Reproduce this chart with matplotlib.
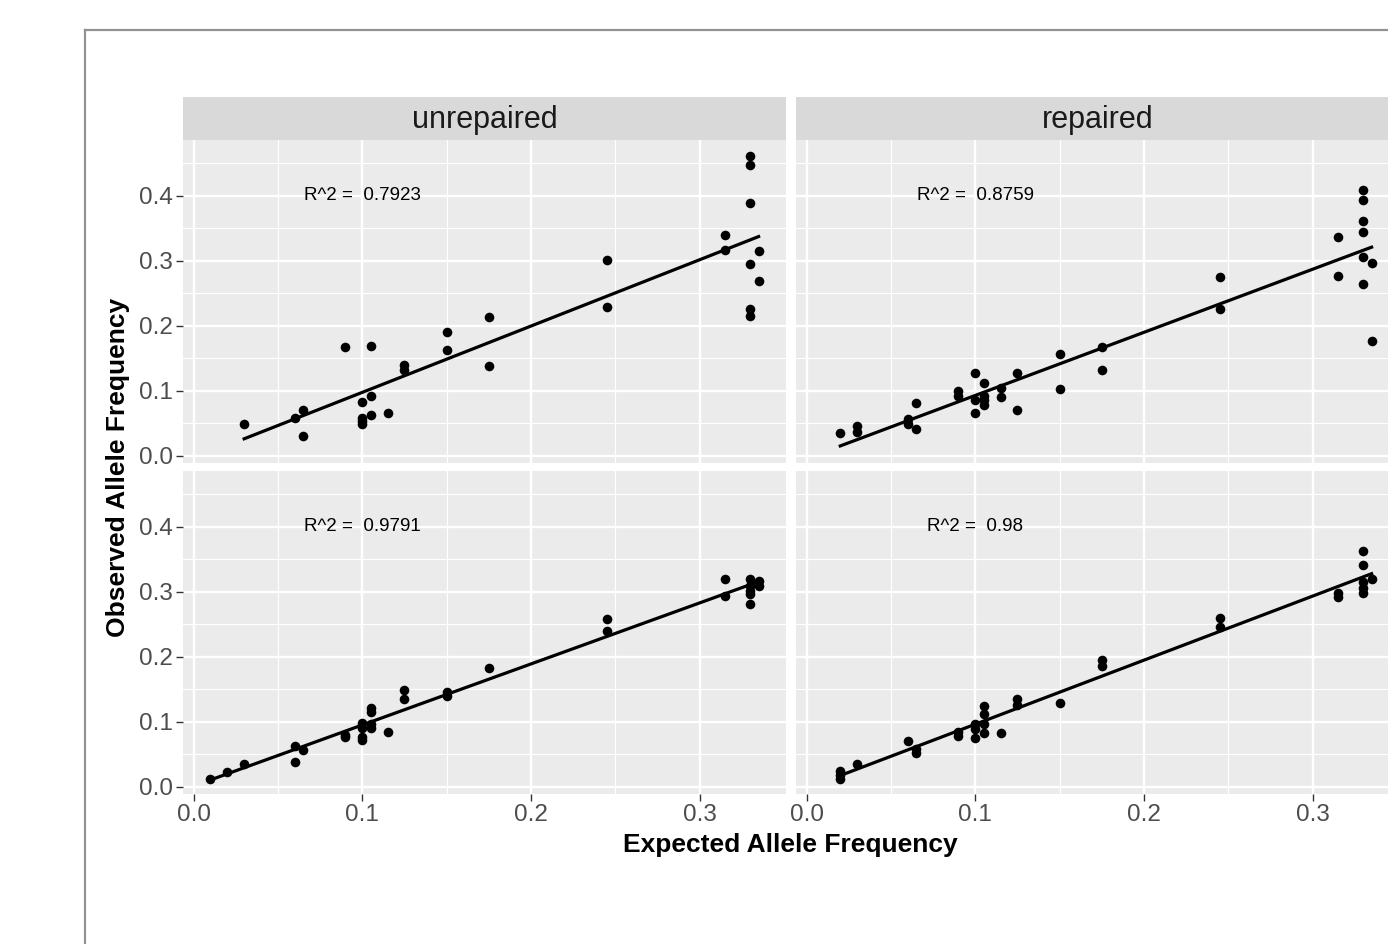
import numpy as np
import matplotlib
matplotlib.use("Agg")
import matplotlib.pyplot as plt
from matplotlib.lines import Line2D

plt.rcParams['font.family'] = ['Liberation Sans', 'DejaVu Sans']

# ---------------- data ----------------
columns = ["unrepaired", "repaired"]

# top row, unrepaired
r1_unrep_x = [0.03, 0.06, 0.065, 0.065, 0.09, 0.105, 0.1, 0.1, 0.1, 0.1, 0.105, 0.105, 0.115,
              0.125, 0.125, 0.15, 0.15, 0.175, 0.175, 0.245, 0.245, 0.315, 0.315,
              0.33, 0.33, 0.33, 0.33, 0.33, 0.33, 0.335, 0.335]
r1_unrep_y = [0.048, 0.057, 0.070, 0.030, 0.167, 0.168, 0.083, 0.058, 0.053, 0.049, 0.092, 0.063, 0.065,
              0.140, 0.131, 0.190, 0.163, 0.213, 0.137, 0.301, 0.229, 0.339, 0.316,
              0.4615, 0.447, 0.388, 0.294, 0.2256, 0.2154, 0.315, 0.268]

# top row, repaired
r1_rep_x = [0.02, 0.03, 0.03, 0.06, 0.06, 0.065, 0.065, 0.09, 0.09, 0.1, 0.1, 0.1,
            0.105, 0.105, 0.105, 0.105, 0.115, 0.115, 0.125, 0.125, 0.15, 0.15, 0.175, 0.175,
            0.245, 0.245, 0.315, 0.315, 0.33, 0.33, 0.33, 0.33, 0.33, 0.33, 0.335, 0.335]
r1_rep_y = [0.035, 0.045, 0.036, 0.056, 0.049, 0.081, 0.041, 0.099, 0.091, 0.127, 0.085, 0.066,
            0.111, 0.091, 0.085, 0.078, 0.104, 0.090, 0.127, 0.070, 0.156, 0.102, 0.167, 0.131,
            0.274, 0.226, 0.337, 0.277, 0.408, 0.393, 0.361, 0.344, 0.305, 0.264, 0.296, 0.176]

# bottom row, unrepaired
r2_unrep_x = [0.01, 0.02, 0.03, 0.06, 0.06, 0.065, 0.09, 0.09, 0.1, 0.1, 0.1, 0.1,
              0.105, 0.105, 0.105, 0.105, 0.115, 0.125, 0.125, 0.15, 0.15, 0.175,
              0.245, 0.245, 0.315, 0.315, 0.33, 0.33, 0.33, 0.33, 0.33, 0.335, 0.335]
r2_unrep_y = [0.012, 0.023, 0.034, 0.062, 0.038, 0.056, 0.079, 0.076, 0.097, 0.090, 0.076, 0.071,
              0.121, 0.115, 0.090, 0.096, 0.084, 0.148, 0.134, 0.146, 0.140, 0.182,
              0.258, 0.240, 0.320, 0.293, 0.320, 0.309, 0.301, 0.297, 0.281, 0.316, 0.308]

# bottom row, repaired
r2_rep_x = [0.02, 0.02, 0.02, 0.03, 0.06, 0.065, 0.065, 0.09, 0.09, 0.1, 0.1, 0.1,
            0.105, 0.105, 0.105, 0.105, 0.115, 0.125, 0.125, 0.15, 0.175, 0.175,
            0.245, 0.245, 0.315, 0.315, 0.33, 0.33, 0.33, 0.33, 0.33, 0.335]
r2_rep_y = [0.024, 0.012, 0.017, 0.034, 0.070, 0.058, 0.051, 0.084, 0.078, 0.096, 0.089, 0.075,
            0.124, 0.111, 0.096, 0.083, 0.083, 0.135, 0.125, 0.129, 0.195, 0.185,
            0.259, 0.245, 0.298, 0.291, 0.363, 0.341, 0.314, 0.305, 0.298, 0.320]

r2_labels = [["0.7923", "0.8759"], ["0.9791", "0.98"]]

x_ticks = [0.0, 0.1, 0.2, 0.3]
x_ticklabels = ["0.0", "0.1", "0.2", "0.3"]
y_ticks = [0.0, 0.1, 0.2, 0.3, 0.4]
y_ticklabels = ["0.0", "0.1", "0.2", "0.3", "0.4"]
x_minor = [0.05, 0.15, 0.25]
y_minor = [0.05, 0.15, 0.25, 0.35, 0.45]

xlabel = "Expected Allele Frequency"
ylabel = "Observed Allele Frequency"

panels = [[(r1_unrep_x, r1_unrep_y), (r1_rep_x, r1_rep_y)],
          [(r2_unrep_x, r2_unrep_y), (r2_rep_x, r2_rep_y)]]

# ---------------- layout ----------------
W, H = 1388, 944
fig = plt.figure(figsize=(W / 100, H / 100), dpi=100)
fig.patch.set_facecolor("white")

def px_axes(x0, y0, x1, y1, **kw):
    return fig.add_axes([x0 / W, 1 - y1 / H, (x1 - x0) / W, (y1 - y0) / H], **kw)

col_x = [(183, 786), (796, 1399)]
row_y = [(140, 463), (471, 794)]
strip_y = (97, 140)

xlim = (-0.00625, 0.35125)
ylim = (-0.0115, 0.4855)

for r in range(2):
    for c in range(2):
        x0, x1 = col_x[c]
        y0, y1 = row_y[r]
        ax = px_axes(x0, y0, x1, y1)
        ax.set_facecolor("#EBEBEB")
        for s in ax.spines.values():
            s.set_visible(False)
        ax.set_xlim(*xlim)
        ax.set_ylim(*ylim)
        ax.set_xticks(x_ticks)
        ax.set_yticks(y_ticks)
        ax.set_xticks(x_minor, minor=True)
        ax.set_yticks(y_minor, minor=True)
        ax.grid(which="major", color="white", lw=1.7)
        ax.grid(which="minor", color="white", lw=0.85)
        ax.set_axisbelow(True)
        ax.tick_params(which="minor", length=0)
        ax.tick_params(which="major", length=5, width=1.0, color="#333333",
                       labelcolor="#4D4D4D", labelsize=17.5, pad=2.5)
        if c == 0:
            ax.set_yticklabels(y_ticklabels)
        else:
            ax.tick_params(axis="y", length=0, labelleft=False)
        if r == 1:
            ax.set_xticklabels(x_ticklabels)
        else:
            ax.tick_params(axis="x", length=0, labelbottom=False)

        xs, ys = panels[r][c]
        xs = np.asarray(xs); ys = np.asarray(ys)
        ax.scatter(xs, ys, s=48, color="black", linewidths=0, zorder=3)
        slope, icpt = np.polyfit(xs, ys, 1)
        lx = np.array([xs.min(), xs.max()])
        ax.plot(lx, slope * lx + icpt, color="black", lw=2.3, zorder=4)
        ax.text(0.1, 0.4, "R^2 =  " + r2_labels[r][c], ha="center", va="center",
                fontsize=13.5, color="black")

        if r == 0:
            sax = px_axes(x0, strip_y[0], x1, strip_y[1])
            sax.set_facecolor("#D9D9D9")
            for s in sax.spines.values():
                s.set_visible(False)
            sax.set_xticks([]); sax.set_yticks([])
            sax.text(0.5, 0.47, columns[c], ha="center", va="center",
                     fontsize=22, color="#1A1A1A", transform=sax.transAxes)

# axis titles
fig.text(790 / W, 1 - 845 / H, xlabel, ha="center", va="center",
         fontsize=19, fontweight="bold", color="black")
fig.text(118 / W, 1 - 467 / H, ylabel, ha="center", va="center", rotation=90,
         fontsize=19, fontweight="bold", color="black")

# outer frame (partially cropped)
fig.add_artist(Line2D([85 / W, 85 / W], [0, 1 - 30 / H], transform=fig.transFigure,
                      color="#929292", lw=1.6))
fig.add_artist(Line2D([85 / W, 1], [1 - 30 / H, 1 - 30 / H], transform=fig.transFigure,
                      color="#929292", lw=1.6))

fig.savefig("out.png", dpi=100)
